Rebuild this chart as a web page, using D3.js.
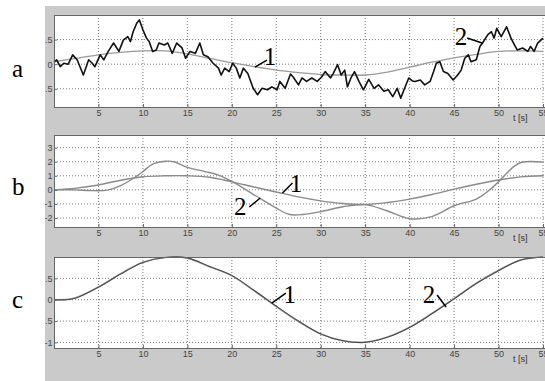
<!DOCTYPE html>
<html>
<head>
<meta charset="utf-8">
<title>a b c</title>
<script src="https://d3js.org/d3.v7.min.js"></script>
<style>
  body { margin: 0; background: white; }
</style>
</head>
<body>
<script>
// chart values
var xTicks = [5, 10, 15, 20, 25, 30, 35, 40, 45, 50, 55];

var aTicks = [-0.5, 0, 0.5];
var aSmooth = [[0,0.05],[2.5,0.12],[5,0.19],[7.5,0.24],[10,0.27],[12.5,0.27],[15,0.21],[17.5,0.12],[20,0.03],
  [22.5,-0.05],[25,-0.12],[27.5,-0.17],[30,-0.21],[32.5,-0.22],[35,-0.22],[37.5,-0.16],[40,-0.06],[42.5,0.04],
  [45,0.13],[47.5,0.2],[50,0.26],[52.5,0.27],[55,0.26]];
var aNoisy = [[0,0.04],[0.3,0.09],[0.7,-0.05],[1.1,0.02],[1.6,0],[2.1,0.19],[2.6,0.09],[3.3,-0.22],[3.9,0.09],
  [4.3,0.02],[4.6,-0.05],[5.2,0.19],[5.6,0.09],[6.1,0.26],[6.7,0.43],[7.3,0.26],[7.8,0.49],[8.3,0.56],[8.6,0.46],
  [8.9,0.66],[9.3,0.83],[9.6,0.9],[10,0.7],[10.4,0.53],[10.7,0.46],[11.1,0.26],[11.5,0.29],[11.8,0.43],[12.4,0.39],
  [12.8,0.43],[13.3,0.22],[13.8,0.43],[14.4,0.33],[14.8,0.12],[15.3,0.26],[15.9,0.22],[16.4,0.43],[16.8,0.19],
  [17.3,0.15],[17.9,0.02],[18.5,-0.08],[18.8,-0.22],[19.2,-0.08],[19.7,-0.15],[20.1,0.02],[20.5,-0.08],[20.9,-0.28],
  [21.3,-0.08],[21.8,-0.19],[22.4,-0.49],[22.9,-0.62],[23.4,-0.49],[24,-0.52],[24.5,-0.46],[25.1,-0.52],[25.4,-0.35],
  [26,-0.49],[26.6,-0.2],[26.9,-0.26],[27.5,-0.42],[27.9,-0.28],[28.4,-0.35],[29,-0.28],[29.6,-0.35],[30.1,-0.26],
  [30.5,-0.15],[31.1,-0.28],[31.4,-0.19],[31.9,-0.01],[32.3,-0.22],[32.7,-0.12],[33,-0.46],[33.4,-0.28],[33.8,-0.15],
  [34.3,-0.35],[34.8,-0.52],[35.4,-0.31],[36,-0.49],[36.5,-0.42],[37.1,-0.55],[37.6,-0.52],[38.1,-0.66],[38.6,-0.49],
  [39,-0.69],[39.5,-0.46],[39.9,-0.28],[40.3,-0.34],[40.6,-0.35],[41.2,-0.32],[41.7,-0.42],[42.3,-0.35],[42.7,-0.15],
  [43,0.02],[43.4,0.05],[43.8,-0.15],[44.3,-0.19],[44.9,-0.32],[45.4,-0.22],[45.8,-0.12],[46.2,0.12],[46.6,0.19],
  [46.9,0.05],[47.5,0.09],[47.9,0.36],[48.2,0.43],[48.8,0.6],[49.2,0.66],[49.5,0.53],[49.8,0.73],[50.3,0.56],
  [50.9,0.76],[51.4,0.53],[51.8,0.39],[52.1,0.29],[52.7,0.33],[53.3,0.26],[53.6,0.36],[54,0.26],[54.4,0.43],[55,0.53]];

var bTicks = [-2, -1, 0, 1, 2, 3];
var bCurve1 = [[0,0],[2.5,0.12],[5,0.35],[7.5,0.68],[10,0.93],[12.5,1.0],[15,1.0],[17.5,0.9],[20,0.57],[22.5,0.2],
  [25,-0.15],[27.5,-0.5],[30,-0.78],[32.5,-0.97],[35,-1.04],[37.5,-0.9],[40,-0.66],[42.5,-0.33],[45,0.05],
  [47.5,0.4],[50,0.7],[52.5,0.92],[55,1.0]];
var bCurve2 = [[0,0],[2.5,0],[4,-0.05],[6,-0.02],[7.5,0.3],[9,0.85],[10,1.3],[11,1.8],[12.5,2.03],[13.5,2.0],
  [15,1.6],[17,1.3],[18.5,1.05],[20,0.6],[22.5,-0.35],[25,-1.3],[26.5,-1.75],[28,-1.75],[30,-1.55],[32.5,-1.2],
  [35,-1.05],[37.5,-1.5],[40,-2.05],[42.5,-1.9],[45,-1.13],[47.5,-0.65],[49,0],[50.2,0.71],[51.7,1.65],[52.6,1.96],[55,1.97]];

var cTicks = [-1, -0.5, 0, 0.5];
var cCurve1 = [[0,0],[1.5,0],[2.5,0.04],[5,0.29],[7.5,0.6],[10,0.87],[12.5,0.99],[15,0.98],[17.5,0.78],[20,0.57],
  [22.5,0.22],[25,-0.15],[27.5,-0.5],[30,-0.8],[32.5,-0.96],[35,-1.0],[37.5,-0.88],[40,-0.65],[42.5,-0.33],
  [45,0.02],[47.5,0.38],[50,0.68],[52.5,0.93],[55,1.0]];
var cCurve2 = [[0,0],[1.5,0.01],[2.5,0.05],[5,0.3],[7.5,0.61],[10,0.88],[12.5,0.99],[15,0.97],[17.5,0.77],[20,0.56],
  [22.5,0.21],[25,-0.16],[27.5,-0.51],[30,-0.8],[32.5,-0.96],[35,-0.99],[37.5,-0.87],[40,-0.64],[42.5,-0.32],
  [45,0.03],[47.5,0.39],[50,0.69],[52.5,0.93],[55,1.0]];

var W = 545, H = 381;
var svg = d3.select("body").append("svg").attr("width", W).attr("height", H);

// gray figure background
svg.append("rect").attr("x", 45).attr("y", 6).attr("width", W - 45).attr("height", H - 6).attr("fill", "#cacaca");
svg.append("clipPath").attr("id", "figclip")
   .append("rect").attr("x", 45).attr("y", 6).attr("width", W - 45).attr("height", H - 6);

var x = d3.scaleLinear().domain([0, 55]).range([54, 543]);
var sans = "Liberation Sans, Arial, sans-serif";
var serif = "Liberation Serif, Times New Roman, serif";

var panels = [
  {name: "a", top: 15, bottom: 107, dom: [-0.87, 1.0], ticks: aTicks, letterY: 77,
   series: [{d: aSmooth, color: "#9a9a9a", w: 1.3}, {d: aNoisy, color: "#111", w: 1.6, linear: true}],
   notes: [{t: 22.6, v: -0.06, l: [12, -7], txt: "1", p: [15, -2]},
           {t: 48.15, v: 0.43, l: [-15, -5], txt: "2", p: [-21, 2]}]},
  {name: "b", top: 135, bottom: 227, dom: [-2.64, 3.9], ticks: bTicks, letterY: 195,
   series: [{d: bCurve1, color: "#8a8a8a", w: 1.4}, {d: bCurve2, color: "#8a8a8a", w: 1.4}],
   notes: [{t: 25.7, v: -0.22, l: [10, -10], txt: "1", p: [13.5, -1]},
           {t: 23.2, v: -0.58, l: [-11, 9], txt: "2", p: [-20, 17]}]},
  {name: "c", top: 257, bottom: 348, dom: [-1.13, 1.0], ticks: cTicks, letterY: 308,
   series: [{d: cCurve2, color: "#a0a0a0", w: 1.5}, {d: cCurve1, color: "#4a4a4a", w: 1.1}],
   notes: [{t: 24.5, v: -0.08, l: [14, -10], txt: "1", p: [18, 0]},
           {t: 44.1, v: -0.17, l: [-9, -12], txt: "2", p: [-17, -4]}]}
];

panels.forEach(function(p) {
  var y = d3.scaleLinear().domain(p.dom).range([p.bottom, p.top]);
  var g = svg.append("g");

  // white plot area
  g.append("rect").attr("x", x.range()[0]).attr("y", p.top)
   .attr("width", x.range()[1] - x.range()[0] + 4).attr("height", p.bottom - p.top)
   .attr("fill", "white");

  // dotted grid
  g.append("g").selectAll("line").data(xTicks).enter().append("line")
   .attr("x1", x).attr("x2", x).attr("y1", p.top).attr("y2", p.bottom)
   .attr("stroke", "#555").attr("stroke-width", 0.8).attr("stroke-dasharray", "1,2");
  g.append("g").selectAll("line").data(p.ticks).enter().append("line")
   .attr("x1", x.range()[0]).attr("x2", W).attr("y1", y).attr("y2", y)
   .attr("stroke", "#555").attr("stroke-width", 0.8).attr("stroke-dasharray", "1,2");

  // curves
  p.series.forEach(function(s) {
    var line = d3.line().x(function(d) { return x(d[0]); }).y(function(d) { return y(d[1]); })
                 .curve(s.linear ? d3.curveLinear : d3.curveCatmullRom.alpha(0.5));
    g.append("path").attr("d", line(s.d)).attr("fill", "none")
     .attr("stroke", s.color).attr("stroke-width", s.w).attr("stroke-linejoin", "round");
  });

  // box
  g.append("rect").attr("x", x.range()[0] + 0.5).attr("y", p.top + 0.5)
   .attr("width", x.range()[1] - x.range()[0] + 4).attr("height", p.bottom - p.top)
   .attr("fill", "none").attr("stroke", "#666").attr("stroke-width", 1);

  // axes (MATLAB-like labels, the left ones cut by the figure edge)
  var xa = g.append("g").attr("transform", "translate(0," + p.bottom + ")")
            .call(d3.axisBottom(x).tickValues(xTicks).tickSize(-3).tickPadding(3));
  var ya = g.append("g").attr("clip-path", "url(#figclip)")
            .append("g").attr("transform", "translate(" + x.range()[0] + ",0)")
            .call(d3.axisLeft(y).tickValues(p.ticks).tickSize(-3).tickPadding(1.5)
                    .tickFormat(function(d) { return String(d); }));
  [xa, ya].forEach(function(a) {
    a.select(".domain").remove();
    a.selectAll(".tick line").attr("stroke", "#666");
    a.selectAll("text").attr("fill", "#444").attr("font-size", 9).attr("font-family", sans);
  });

  g.append("text").attr("x", 513).attr("y", p.bottom + 14)
   .attr("font-family", sans).attr("font-size", 9).attr("fill", "#333")
   .text("t  [s]");

  // panel letter
  svg.append("text").attr("x", 12).attr("y", p.letterY)
     .attr("font-family", serif).attr("font-size", 25)
     .text(p.name);

  // curve labels with leader lines
  p.notes.forEach(function(n) {
    var px = x(n.t), py = y(n.v);
    g.append("line").attr("x1", px).attr("y1", py).attr("x2", px + n.l[0]).attr("y2", py + n.l[1])
     .attr("stroke", "black").attr("stroke-width", 1.5);
    g.append("text").attr("x", px + n.p[0]).attr("y", py + n.p[1]).attr("text-anchor", "middle")
     .attr("font-family", serif).attr("font-size", 25)
     .text(n.txt);
  });
});
</script>
</body>
</html>
